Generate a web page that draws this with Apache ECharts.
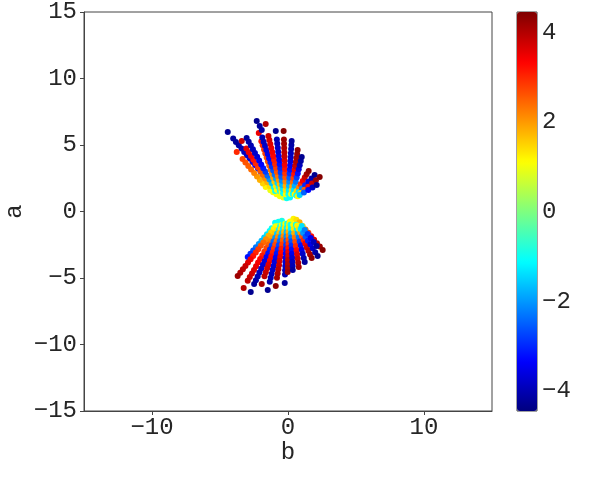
<!DOCTYPE html>
<html><head><meta charset="utf-8">
<script src="https://cdn.jsdelivr.net/npm/echarts@6/dist/echarts.min.js"></script>
<style>html,body{margin:0;padding:0;background:#fff}#c{width:598px;height:494px}</style>
</head><body><div id="c"></div>
<script>
const xTicks = [-10, 0, 10];
const cbTicks = [-4, -2, 0, 2, 4];
const colorMin = -4.45, colorMax = 4.45;
// points: [b, a, value]
const uCore = [[-1.30,1.60,0.9],[-1.10,1.45,1.0],[-0.85,1.30,1.1],[-0.60,1.15,1.0],[-0.35,1.05,0.9],[-0.10,1.00,-1.0],[0.15,1.05,-1.1]];
const u1 = [[-1.20,1.99,-1.2],[-1.40,2.24,-1.6],[-1.60,2.49,-2.0],[-1.81,2.74,-2.4],[-2.01,2.99,-2.8],[-2.21,3.24,-3.1],[-2.41,3.48,-3.3],[-2.61,3.73,-3.5],[-2.82,3.98,-3.7],[-3.02,4.23,-3.8],[-3.22,4.48,-3.9],[-3.42,4.73,-4.0],[-3.62,4.98,-4.1],[-3.83,5.23,-4.2],[-4.03,5.48,-4.2],[-4.43,5.98,-4.3]];
const u2 = [[-1.64,1.84,1.2],[-1.85,2.10,1.5],[-2.07,2.37,1.8],[-2.28,2.63,2.0],[-2.49,2.89,2.2],[-2.71,3.16,2.4],[-2.92,3.42,2.5],[-3.13,3.68,2.6],[-3.34,3.94,2.7],[-3.77,4.47,3.0]];
const u3 = [[-1.22,1.68,1.1],[-1.35,1.92,1.4],[-1.52,2.20,1.8],[-1.69,2.48,2.1],[-1.86,2.77,2.4],[-2.03,3.05,2.6],[-2.21,3.33,2.8],[-2.38,3.61,3.0],[-2.55,3.89,3.2],[-2.72,4.17,3.4],[-2.89,4.46,3.5],[-3.06,4.74,3.6],[-3.40,5.30,3.8]];
const u4 = [[-0.95,1.55,-1.0],[-1.05,1.84,-1.2],[-1.20,2.12,-1.6],[-1.36,2.41,-2.0],[-1.51,2.69,-2.4],[-1.66,2.98,-2.8],[-1.82,3.26,-3.1],[-1.97,3.54,-3.3],[-2.12,3.83,-3.5],[-2.27,4.11,-3.7],[-2.43,4.40,-3.8],[-2.58,4.68,-3.9],[-2.73,4.96,-4.0],[-2.89,5.25,-4.1],[-3.04,5.53,-4.2]];
const u5r = [[-0.82,1.62,1.1],[-0.90,1.92,1.3],[-1.00,2.23,1.6],[-1.09,2.53,1.9],[-1.19,2.84,2.1],[-1.28,3.14,2.3],[-1.38,3.45,2.5],[-1.48,3.76,2.6],[-1.57,4.06,2.7],[-1.67,4.37,2.8],[-1.76,4.67,2.9],[-1.86,4.98,3.0],[-1.96,5.29,3.2],[-2.15,5.90,3.5]];
const u5 = [[-0.60,1.55,-1.0],[-0.68,1.84,-1.2],[-0.78,2.15,-1.5],[-0.88,2.46,-1.9],[-0.98,2.77,-2.3],[-1.09,3.08,-2.6],[-1.19,3.39,-2.9],[-1.29,3.70,-3.1],[-1.39,4.01,-3.3],[-1.49,4.32,-3.5],[-1.59,4.63,-3.6],[-1.69,4.94,-3.8],[-1.79,5.25,-3.9],[-1.89,5.56,-4.0],[-1.93,6.13,-4.1],[-2.08,6.43,-4.2],[-2.30,6.80,-4.3]];
const u6 = [[-0.47,1.47,1.1],[-0.54,1.77,1.4],[-0.61,2.07,1.7],[-0.68,2.37,2.0],[-0.75,2.67,2.3],[-0.82,2.97,2.6],[-0.88,3.27,2.8],[-0.95,3.57,3.0],[-1.02,3.87,3.1],[-1.09,4.17,3.3],[-1.16,4.47,3.4],[-1.23,4.77,3.5],[-1.30,5.07,3.6],[-1.37,5.37,3.7],[-1.44,5.67,3.8],[-1.64,6.58,4.0]];
const u7 = [[-0.36,1.38,-1.0],[-0.39,1.69,-1.3],[-0.43,2.00,-1.7],[-0.46,2.31,-2.1],[-0.50,2.62,-2.5],[-0.54,2.93,-2.8],[-0.57,3.25,-3.0],[-0.61,3.56,-3.2],[-0.64,3.87,-3.4],[-0.68,4.18,-3.5],[-0.72,4.49,-3.7],[-0.75,4.80,-3.8],[-0.79,5.11,-3.9],[-0.82,5.42,-4.0],[-0.90,6.05,-4.3]];
const u8 = [[-0.16,1.30,1.1],[-0.17,1.62,1.4],[-0.18,1.94,1.8],[-0.19,2.25,2.2],[-0.20,2.57,2.6],[-0.21,2.88,2.9],[-0.22,3.20,3.2],[-0.24,3.52,3.4],[-0.25,3.83,3.6],[-0.26,4.15,3.8],[-0.27,4.46,3.9],[-0.28,4.78,4.0],[-0.29,5.10,4.1],[-0.30,5.41,4.2],[-0.32,6.05,4.4]];
const u9 = [[0.03,1.30,-1.0],[0.05,1.62,-1.3],[0.07,1.93,-1.7],[0.09,2.23,-2.1],[0.10,2.54,-2.5],[0.12,2.85,-2.9],[0.14,3.16,-3.2],[0.16,3.46,-3.4],[0.18,3.77,-3.6],[0.20,4.08,-3.8],[0.21,4.38,-3.9],[0.23,4.69,-4.0],[0.25,5.00,-4.1],[0.27,5.30,-4.2]];
const u10 = [[0.23,1.32,1.1],[0.27,1.62,1.4],[0.31,1.92,1.9],[0.36,2.22,2.4],[0.40,2.52,2.8],[0.45,2.82,3.2],[0.49,3.12,3.5],[0.53,3.42,3.8],[0.58,3.72,4.0],[0.62,4.02,4.1],[0.67,4.32,4.2],[0.71,4.62,4.3]];
const u11 = [[0.35,1.32,-1.0],[0.42,1.62,-1.3],[0.49,1.93,-1.8],[0.57,2.24,-2.3],[0.64,2.55,-2.8],[0.72,2.86,-3.2],[0.79,3.17,-3.6],[0.86,3.48,-3.9],[0.94,3.79,-4.1],[1.01,4.10,-4.3]];
const u12 = [[0.50,1.30,1.1],[0.64,1.54,1.5],[0.79,1.79,2.2],[0.93,2.04,2.9],[1.08,2.30,3.4],[1.23,2.55,3.8],[1.37,2.80,4.1],[1.52,3.05,4.3]];
const u13 = [[0.60,1.20,-1.0],[0.79,1.47,-1.3],[1.02,1.72,-2.2],[1.26,1.98,-3.0],[1.49,2.23,-3.6],[1.73,2.49,-4.0],[1.96,2.74,-4.3]];
const u14 = [[0.72,1.15,1.2],[0.93,1.39,1.5],[1.21,1.63,2.5],[1.49,1.87,3.3],[1.77,2.11,3.8],[2.05,2.35,4.2],[2.33,2.59,4.4]];
const u15 = [[0.86,1.24,-1.5],[1.17,1.43,-2.5],[1.49,1.62,-3.3],[1.80,1.80,-3.9],[2.11,1.99,-4.3]];

const lCore = [[-0.95,-0.85,-1.1],[-0.70,-0.78,-1.0],[-0.45,-0.70,-0.9],[0.15,-0.75,1.1],[0.40,-0.55,1.2],[0.62,-0.62,1.4],[0.85,-0.80,1.8]];
const l0 = [[-1.20,-1.25,-1.0],[-1.35,-1.47,-1.1],[-1.55,-1.71,-1.3],[-1.75,-1.96,-1.5],[-1.95,-2.20,-1.7],[-2.15,-2.45,-2.0],[-2.36,-2.69,-2.3],[-2.56,-2.93,-2.6],[-2.76,-3.18,-2.9],[-2.96,-3.42,-3.2]];
const l1 = [[-0.92,-1.10,1.0],[-1.05,-1.32,1.2],[-1.24,-1.57,1.5],[-1.43,-1.82,1.8],[-1.62,-2.08,2.1],[-1.81,-2.33,2.4],[-2.00,-2.58,2.6],[-2.19,-2.83,2.8],[-2.37,-3.08,3.0],[-2.56,-3.34,3.2],[-2.75,-3.59,3.4],[-2.94,-3.84,3.6],[-3.13,-4.09,3.8],[-3.32,-4.34,3.9],[-3.51,-4.60,4.0],[-3.70,-4.85,4.2]];
const l3 = [[-0.72,-1.10,1.1],[-0.83,-1.39,1.3],[-0.98,-1.66,1.6],[-1.13,-1.94,1.9],[-1.29,-2.21,2.2],[-1.44,-2.48,2.5],[-1.59,-2.75,2.7],[-1.74,-3.03,2.9],[-1.89,-3.30,3.1],[-2.05,-3.57,3.3],[-2.20,-3.84,3.4],[-2.35,-4.12,3.5],[-2.50,-4.39,3.6],[-2.65,-4.66,3.7],[-2.81,-4.93,3.8],[-2.96,-5.21,3.9],[-3.26,-5.75,4.0]];
const l4 = [[-0.58,-1.10,-1.0],[-0.68,-1.39,-1.2],[-0.81,-1.68,-1.6],[-0.94,-1.97,-2.0],[-1.07,-2.26,-2.4],[-1.20,-2.55,-2.7],[-1.33,-2.85,-3.0],[-1.45,-3.14,-3.2],[-1.58,-3.43,-3.4],[-1.71,-3.72,-3.6],[-1.84,-4.01,-3.7],[-1.97,-4.30,-3.8],[-2.10,-4.59,-3.9],[-2.23,-4.88,-4.0],[-2.36,-5.17,-4.1],[-2.49,-5.46,-4.2],[-2.74,-6.05,-4.3]];
const l5 = [[-0.46,-1.02,1.1],[-0.54,-1.32,1.3],[-0.64,-1.62,1.7],[-0.74,-1.91,2.1],[-0.84,-2.21,2.4],[-0.94,-2.50,2.7],[-1.04,-2.80,2.9],[-1.13,-3.09,3.1],[-1.23,-3.39,3.3],[-1.33,-3.68,3.4],[-1.43,-3.98,3.6],[-1.53,-4.27,3.7],[-1.63,-4.57,3.8],[-1.73,-4.86,3.9],[-1.93,-5.45,4.1]];
const l6 = [[-0.33,-0.98,-1.0],[-0.39,-1.32,-1.2],[-0.46,-1.63,-1.6],[-0.54,-1.93,-2.0],[-0.61,-2.24,-2.4],[-0.68,-2.54,-2.7],[-0.76,-2.85,-3.0],[-0.83,-3.15,-3.2],[-0.90,-3.46,-3.4],[-0.98,-3.76,-3.6],[-1.05,-4.07,-3.7],[-1.12,-4.37,-3.8],[-1.20,-4.68,-3.9],[-1.27,-4.98,-4.0],[-1.34,-5.29,-4.1],[-1.49,-5.90,-4.3]];
const l7 = [[-0.20,-0.92,1.1],[-0.24,-1.24,1.3],[-0.29,-1.55,1.7],[-0.33,-1.86,2.1],[-0.38,-2.17,2.5],[-0.43,-2.48,2.8],[-0.48,-2.80,3.1],[-0.52,-3.11,3.3],[-0.57,-3.42,3.5],[-0.62,-3.73,3.7],[-0.66,-4.04,3.8],[-0.71,-4.35,3.9],[-0.76,-4.66,4.0],[-0.81,-4.98,4.1],[-0.90,-5.60,4.3]];
const l8 = [[-0.06,-0.90,-1.0],[-0.10,-1.24,-1.2],[-0.11,-1.56,-1.7],[-0.12,-1.88,-2.1],[-0.13,-2.19,-2.5],[-0.14,-2.51,-2.8],[-0.15,-2.83,-3.1],[-0.16,-3.15,-3.3],[-0.18,-3.47,-3.5],[-0.19,-3.79,-3.7],[-0.20,-4.10,-3.8],[-0.21,-4.42,-3.9],[-0.22,-4.74,-4.0],[-0.24,-5.38,-4.2]];
const l9 = [[0.12,-0.80,1.1],[0.08,-1.02,1.2],[0.05,-1.24,1.3],[0.04,-1.54,1.8],[0.04,-1.84,2.2],[0.03,-2.14,2.6],[0.03,-2.44,2.9],[0.02,-2.75,3.2],[0.02,-3.05,3.5],[0.01,-3.35,3.7],[0.00,-3.65,3.9],[0.00,-3.95,4.0],[-0.01,-4.25,4.1],[-0.02,-4.55,4.2]];
const l10 = [[0.18,-1.00,-1.0],[0.20,-1.32,-1.2],[0.22,-1.63,-1.7],[0.23,-1.94,-2.2],[0.25,-2.24,-2.6],[0.26,-2.55,-2.9],[0.28,-2.86,-3.2],[0.29,-3.17,-3.5],[0.31,-3.48,-3.7],[0.32,-3.78,-3.9],[0.34,-4.09,-4.0],[0.35,-4.40,-4.2]];
const l11 = [[0.38,-1.00,1.1],[0.42,-1.32,1.3],[0.46,-1.64,1.8],[0.50,-1.95,2.3],[0.54,-2.27,2.7],[0.58,-2.59,3.0],[0.63,-2.91,3.3],[0.67,-3.22,3.6],[0.71,-3.54,3.8],[0.75,-3.86,4.0],[0.79,-4.17,4.1]];
const l12 = [[0.58,-1.00,-1.0],[0.64,-1.32,-1.2],[0.71,-1.63,-1.8],[0.79,-1.94,-2.3],[0.86,-2.25,-2.8],[0.94,-2.56,-3.2],[1.01,-2.87,-3.5],[1.08,-3.18,-3.8],[1.16,-3.49,-4.0],[1.23,-3.80,-4.2]];
const l13 = [[0.68,-1.05,1.2],[0.79,-1.32,1.4],[0.91,-1.59,2.0],[1.03,-1.87,2.6],[1.15,-2.14,3.0],[1.27,-2.41,3.4],[1.38,-2.68,3.7],[1.50,-2.96,3.9],[1.62,-3.23,4.1],[1.74,-3.50,4.3]];
const l14 = [[0.93,-1.32,-1.3],[1.11,-1.61,-2.0],[1.29,-1.90,-2.6],[1.47,-2.19,-3.1],[1.65,-2.48,-3.5],[1.82,-2.77,-3.8],[2.00,-3.06,-4.1],[2.18,-3.35,-4.3]];
const l15 = [[1.08,-1.09,1.5],[1.29,-1.35,2.2],[1.50,-1.60,2.8],[1.71,-1.86,3.3],[1.92,-2.12,3.7],[2.13,-2.38,4.0],[2.34,-2.63,4.2],[2.55,-2.89,4.4]];
const l16 = [[1.01,-1.09,-1.4],[1.23,-1.39,-2.2],[1.45,-1.69,-2.9],[1.67,-1.99,-3.5],[1.89,-2.29,-3.9],[2.11,-2.59,-4.2]];

const allPoints = [].concat(uCore, lCore, u1, u2, u3, u4, u5r, u5, u6, u7, u8, u9, u10, u11, u12, u13, u14, u15,
  l0, l1, l3, l4, l5, l6, l7, l8, l9, l10, l11, l12, l13, l14, l15, l16);

const jet = ['#00007f','#0000ff','#007fff','#00ffff','#7fff7f','#ffff00','#ff7f00','#ff0000','#7f0000'];
const FONT = 'Liberation Mono';
const txt = {fontFamily: FONT, fontSize: 24, color: '#262626'};
const minus = v => String(v).replace('-', '\u2212');
const chart = echarts.init(document.getElementById('c'), null, {renderer: 'canvas'});
chart.setOption({
  animation: false,
  backgroundColor: '#fff',
  grid: [
    {left: 84, top: 12, width: 408, height: 399, show: true, borderColor: '#444', borderWidth: 1, backgroundColor: 'transparent', containLabel: false, outerBoundsMode: 'none'},
    {left: 517, top: 12, width: 20, height: 399, show: true, borderColor: '#444', borderWidth: 1, backgroundColor: 'transparent', containLabel: false, outerBoundsMode: 'none'}
  ],
  xAxis: [
    {type: 'value', gridIndex: 0, min: -15, max: 15, name: 'b', nameLocation: 'middle', nameGap: 30, nameMoveOverlap: false,
     nameTextStyle: txt,
     axisLine: {show: true, onZero: false, lineStyle: {color: '#444'}},
     axisTick: {show: true, length: 4, customValues: xTicks, lineStyle: {color: '#444'}},
     axisLabel: {customValues: xTicks, margin: 5, ...txt, formatter: minus},
     splitLine: {show: false}},
    {type: 'value', gridIndex: 1, show: false, min: 0, max: 1}
  ],
  yAxis: [
    {type: 'value', gridIndex: 0, min: -15, max: 15, interval: 5, name: 'a', nameLocation: 'middle', nameGap: 57, nameMoveOverlap: false,
     nameTextStyle: txt,
     axisLine: {show: true, onZero: false, lineStyle: {color: '#444'}},
     axisTick: {show: true, length: 4, lineStyle: {color: '#444'}},
     axisLabel: {margin: 7, ...txt, formatter: minus},
     splitLine: {show: false}},
    {type: 'value', gridIndex: 1, position: 'right', min: colorMin, max: colorMax,
     axisLine: {show: false},
     axisTick: {show: true, length: 4, customValues: cbTicks, lineStyle: {color: '#444'}},
     axisLabel: {customValues: cbTicks, margin: 5, ...txt, formatter: minus},
     splitLine: {show: false}}
  ],
  visualMap: {
    type: 'continuous', min: colorMin, max: colorMax, dimension: 2, seriesIndex: 0,
    left: 517, top: 12, itemWidth: 20, itemHeight: 399, padding: 0,
    calculable: false, realtime: false, hoverLink: false, text: null, showLabel: false,
    inRange: {color: jet}
  },
  series: [{
    type: 'scatter', xAxisIndex: 0, yAxisIndex: 0, symbolSize: 6,
    itemStyle: {opacity: 1},
    data: allPoints
  }]
});
</script></body></html>
